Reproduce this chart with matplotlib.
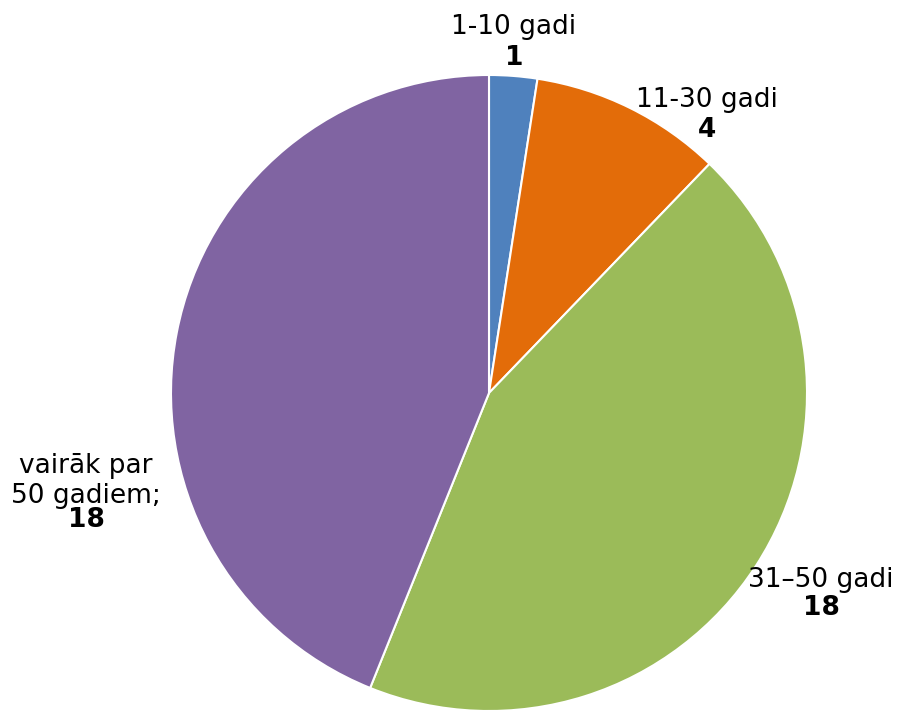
import matplotlib
matplotlib.use("Agg")
import matplotlib.pyplot as plt

# ── Data ──────────────────────────────────────────────────────────
categories = ["1-10 gadi", "11-30 gadi", "31\u201350 gadi", "vair\u0101k par\n50 gadiem;"]
values = [1, 4, 18, 18]
colors = ["#4F81BD", "#E36C09", "#9BBB59", "#8064A2"]

W, H = 902, 713
FS = 19
plt.rcParams["font.family"] = "DejaVu Sans"

fig = plt.figure(figsize=(W / 100, H / 100), dpi=100)

# pie centre (489, 393) px, radius 318 px
cx, cy, r = 489, 393, 318
ax = fig.add_axes([(cx - r) / W, (H - cy - r) / H, 2 * r / W, 2 * r / H])
ax.pie(values, colors=colors, startangle=90, counterclock=False,
       wedgeprops=dict(edgecolor="white", linewidth=1.5))
ax.set_xlim(-1, 1); ax.set_ylim(-1, 1)
ax.set_aspect("equal")
ax.axis("off")


def px(x, y):
    return x / W, 1 - y / H


# label positions: (x centre, name baseline, value baseline) in px
label_pos = [(514, 34, 65), (707, 107, 137), (821, 587, 615), (86, 503, 527)]

for name, val, (x, yn, yv) in zip(categories, values, label_pos):
    fig.text(*px(x, yn), name, ha="center", va="baseline", fontsize=FS,
             linespacing=1.2, color="black")
    fig.text(*px(x, yv), str(val), ha="center", va="baseline", fontsize=FS,
             fontweight="bold", color="black")

fig.savefig("out.png", dpi=100)
